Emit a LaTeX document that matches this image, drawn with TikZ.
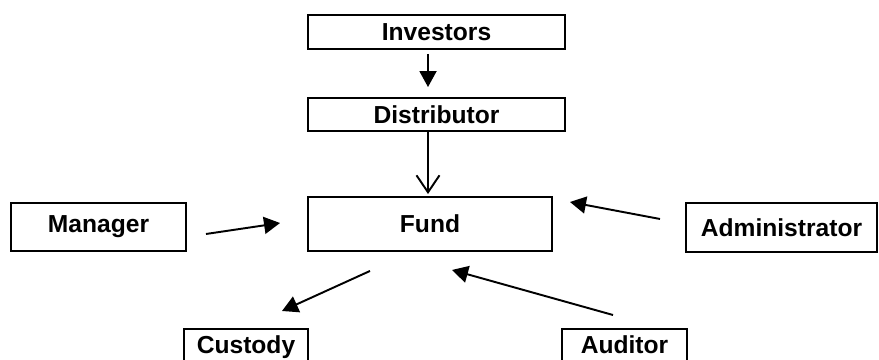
\documentclass[tikz,border=0pt]{standalone}
\usepackage{fontspec}
\setmainfont{Liberation Sans}
\usetikzlibrary{arrows.meta}

\begin{document}
\begin{tikzpicture}[
  box/.style={draw, line width=1.1pt, inner sep=0pt, font=\fontsize{14}{16}\selectfont\bfseries},
  cutbox/.style={box, anchor=north, text height=.5cm, text depth=1cm},
  fillarrow/.style={-{Triangle[length=.32cm,width=.34cm]}, line width=1.1pt},
  vearrow/.style={-{Straight Barb[length=.34cm,width=.46cm]}, line width=1.1pt}
]
\useasboundingbox (0,0) rectangle (17.58,-7.2);

%%%%%% Top row %%%%%%%

\node (investors) at (8.73,-.64) [box, minimum width=5.14cm, minimum height=.68cm] {Investors};
\node (distributor) at (8.73,-2.29) [box, minimum width=5.14cm, minimum height=.66cm] {Distributor};

%%%%%% Middle row %%%%%%%

\node (manager) at (1.97,-4.54) [box, minimum width=3.5cm, minimum height=.96cm] {Manager};
\node (fund) at (8.6,-4.48) [box, minimum width=4.88cm, minimum height=1.08cm] {Fund};
\node (admin) at (15.63,-4.55) [box, minimum width=3.82cm, minimum height=.98cm] {Administrator};

%%%%%% Bottom row %%%%%%%

\node (custody) at (4.92,-6.56) [cutbox, minimum width=2.48cm] {Custody};
\node (auditor) at (12.49,-6.56) [cutbox, minimum width=2.5cm] {Auditor};

%%%%%% Arrows %%%%%%%

\draw[fillarrow] ([xshift=-.17cm,yshift=-.08cm]investors.south) -- ([xshift=-.17cm,yshift=.2cm]distributor.north);
\draw[vearrow] ([xshift=-.17cm]distributor.south) -- ([xshift=-.04cm,yshift=.04cm]fund.north);

\draw[fillarrow] ([xshift=.38cm,yshift=-.14cm]manager.east) -- ([xshift=-.54cm,yshift=.02cm]fund.west);
\draw[fillarrow] ([xshift=-.5cm,yshift=.17cm]admin.west) -- ([xshift=.34cm,yshift=.44cm]fund.east);

\draw[fillarrow] ([xshift=-1.2cm,yshift=-.38cm]fund.south) -- ([xshift=.72cm,yshift=.34cm]custody.north);
\draw[fillarrow] ([xshift=-.23cm,yshift=.26cm]auditor.north) -- ([xshift=.44cm,yshift=-.36cm]fund.south);

\end{tikzpicture}
\end{document}
